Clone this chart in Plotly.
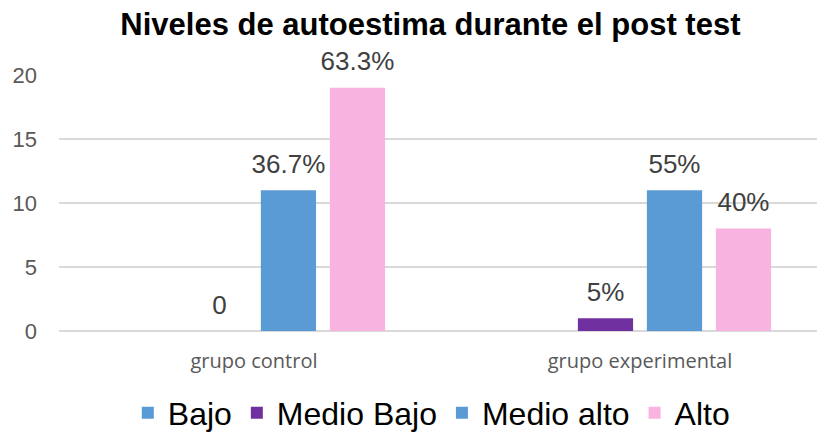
import plotly.graph_objects as go

# data
grupos = ["grupo control", "grupo experimental"]
series = ["Bajo", "Medio Bajo", "Medio alto", "Alto"]
bajo = [0, 0]
medio_bajo = [0, 1]
medio_alto = [11, 11]
alto = [19, 8]
bajo_txt = ["", ""]
medio_bajo_txt = ["0", "5%"]
medio_alto_txt = ["36.7%", "55%"]
alto_txt = ["63.3%", "40%"]

colores = ["#5B9BD5", "#7030A0", "#5B9BD5", "#F8B3E1"]
valores = [bajo, medio_bajo, medio_alto, alto]
textos = [bajo_txt, medio_bajo_txt, medio_alto_txt, alto_txt]

fig = go.Figure()
for nombre, vals, col in zip(series, valores, colores):
    fig.add_trace(go.Bar(
        x=grupos, y=vals, name=nombre,
        marker=dict(color=col, line=dict(width=0)),
    ))

# data labels: invisible markers so the text sits a little above each bar
for nombre, vals, txt in zip(series, valores, textos):
    fig.add_trace(go.Scatter(
        x=grupos, y=vals, text=txt, mode="markers+text", textposition="top center",
        marker=dict(size=16, opacity=0), showlegend=False, hoverinfo="skip",
        cliponaxis=False, name=nombre,
        textfont=dict(family="Liberation Sans, Arial", size=26, color="#404040"),
    ))

# page body has an 8px margin, so everything is laid out 8px up/left
fig.update_layout(
    width=825, height=434,
    margin=dict(l=51, r=0, t=67, b=111, autoexpand=False),
    paper_bgcolor="white", plot_bgcolor="white",
    barmode="group", bargap=0.285, bargroupgap=0.2,
    scattermode="group", scattergap=0.285,
    title=dict(text="<b>Niveles de autoestima durante el post test</b>",
               xref="container", x=0.512, xanchor="center",
               yref="container", y=1.0, yanchor="top", pad=dict(t=5),
               font=dict(family="Liberation Sans, Arial", size=31, color="black")),
    legend=dict(orientation="h", x=0.481, xanchor="center",
                y=-0.32, yanchor="middle",
                font=dict(family="Liberation Sans, Arial", size=32, color="black"),
                itemwidth=30, tracegroupgap=0),
    showlegend=True,
)
fig.update_xaxes(range=[-0.505, 1.5], showgrid=False, showline=False, ticks="",
                 ticklabelstandoff=16,
                 tickfont=dict(family="Open Sans", size=20, color="#595959"))
fig.update_yaxes(range=[0, 20], dtick=5, showgrid=True, gridcolor="#D9D9D9", gridwidth=1.5,
                 zeroline=True, zerolinecolor="#D9D9D9", zerolinewidth=1.5,
                 ticks="", ticklabelstandoff=21,
                 tickfont=dict(family="Liberation Sans, Arial", size=22, color="#595959"))

fig.write_html("out.html")
